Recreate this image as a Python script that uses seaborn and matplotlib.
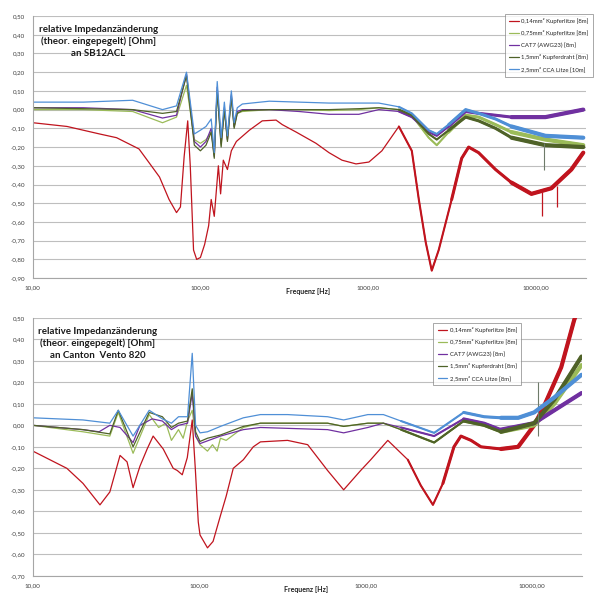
"""
Relative Impedanzänderung verschiedener Lautsprecherkabel (zwei Lautsprecher)
"""
import matplotlib
matplotlib.use('Agg')
import matplotlib.pyplot as plt
import matplotlib.ticker as mticker
import seaborn as sns

# ── Data ─────────────────────────────────────────────────────────
LABELS_TOP = ['0,14mm² Kupferlitze [8m]', '0,75mm² Kupferlitze [8m]', 'CAT7 (AWG23) [8m]',
              '1,5mm² Kupferdraht [8m]', '2,5mm² CCA Litze [10m]']
LABELS_BOT = ['0,14mm² Kupferlitze [8m]', '0,75mm² Kupferlitze [8m]', 'CAT7 (AWG23) [8m]',
              '1,5mm² Kupferdraht [8m]', '2,5mm² CCA Litze [8m]']
COLORS = ['#C0141E', '#9BBB59', '#7030A0', '#4F6228', '#4F8FD6']

# top chart: SB12ACL
top_red_f = [10, 16, 25, 31.6, 43, 50, 57, 65, 72, 76, 80, 84, 87, 91, 95, 100, 106, 112, 116, 121,
             128, 132, 137, 145, 153, 164, 196, 234, 283, 308, 373, 490, 586, 700, 849, 1014, 1212,
             1530, 1828, 2013, 2215, 2405, 2646, 3162, 3628, 3993, 4580, 5780, 7200, 9466,
             12450, 16380, 19300]
top_red_v = [-0.07, -0.09, -0.13, -0.15, -0.21, -0.29, -0.36, -0.48, -0.55, -0.52, -0.25, -0.06, -0.30,
             -0.75, -0.80, -0.79, -0.72, -0.62, -0.48, -0.57, -0.30, -0.45, -0.27, -0.32, -0.22, -0.17,
             -0.11, -0.06, -0.056, -0.08, -0.12, -0.18, -0.23, -0.27, -0.29, -0.28, -0.22, -0.09, -0.22,
             -0.48, -0.71, -0.86, -0.75, -0.48, -0.26, -0.20, -0.23, -0.32, -0.39, -0.45,
             -0.42, -0.32, -0.23]
# single-sample outliers (thin vertical spikes)
top_red_spike_f = [11000, 13500]
top_red_spike_lo = [-0.57, -0.52]
top_red_spike_hi = [-0.44, -0.41]
top_olive_spike_f = [11200]
top_olive_spike_lo = [-0.32]
top_olive_spike_hi = [-0.18]

top_grp_f = [10, 20, 39.4, 59.4, 72, 82.6, 92, 100, 108, 116, 121, 126, 133, 139, 145, 153, 159, 166,
             178, 258, 388, 586, 883, 1162, 1530, 1828, 2307, 2576, 3034, 3830, 4580, 5780, 7200,
             11480, 19300]
top_green_v = [0.0, 0.0, -0.01, -0.07, -0.04, 0.13, -0.16, -0.18, -0.16, -0.12, -0.24, 0.10, -0.19,
               0.0, -0.16, 0.06, -0.09, -0.02, -0.01, 0.0, 0.0, -0.005, 0.0, 0.01, 0.0, -0.03, -0.15,
               -0.19, -0.12, -0.03, -0.04, -0.08, -0.12, -0.16, -0.19]
top_purple_v = [0.01, 0.01, 0.0, -0.045, -0.03, 0.19, -0.17, -0.20, -0.17, -0.10, -0.25, 0.12, -0.18,
                0.01, -0.16, 0.08, -0.09, -0.01, 0.0, 0.0, -0.01, -0.025, -0.025, 0.0, -0.01, -0.04,
                -0.12, -0.14, -0.09, -0.01, -0.02, -0.03, -0.04, -0.04, 0.0]
top_olive_v = [0.01, 0.005, 0.0, -0.02, -0.01, 0.18, -0.19, -0.22, -0.19, -0.12, -0.26, 0.10, -0.20,
               0.0, -0.17, 0.07, -0.10, -0.02, -0.005, 0.0, 0.0, 0.0, 0.005, 0.01, 0.0, -0.03, -0.13,
               -0.16, -0.11, -0.04, -0.06, -0.10, -0.15, -0.19, -0.20]
top_blue_v = [0.04, 0.04, 0.05, 0.0, 0.02, 0.20, -0.13, -0.11, -0.09, -0.05, -0.23, 0.15, -0.15,
              0.04, -0.14, 0.10, -0.07, 0.01, 0.03, 0.045, 0.04, 0.035, 0.035, 0.035, 0.015, -0.02,
              -0.11, -0.13, -0.08, 0.0, -0.02, -0.05, -0.09, -0.14, -0.15]

# bottom chart: Canton Vento 820
bot_red_f = [10, 16, 20, 25.3, 29, 33.4, 36.8, 40, 44, 48.6, 52.8, 60.7, 69.7, 73.7, 79, 84.7, 90.7,
             94.6, 98.6, 101, 112, 121, 134, 145, 160, 184, 211, 233, 339, 448, 590, 737, 933, 1072,
             1358, 1791, 2144, 2535, 2911, 3390, 3734, 4295, 4930, 6500, 8240, 10280, 11800, 14960,
             17900, 20280]
bot_red_v = [-0.12, -0.20, -0.27, -0.37, -0.31, -0.14, -0.17, -0.29, -0.19, -0.11, -0.05, -0.11, -0.20,
             -0.21, -0.23, -0.15, 0.025, -0.20, -0.45, -0.51, -0.57, -0.54, -0.42, -0.33, -0.20, -0.16,
             -0.10, -0.077, -0.07, -0.09, -0.21, -0.30, -0.21, -0.16, -0.07, -0.16, -0.28, -0.37, -0.27,
             -0.10, -0.05, -0.07, -0.10, -0.11, -0.10, 0.0, 0.09, 0.27, 0.49, 0.60]

bot_green_f = [10, 20, 29, 32.6, 40, 50, 57, 63, 68, 75, 80, 85, 90.7, 95, 101, 112, 120, 128, 134,
               145, 184, 233, 590, 737, 1030, 1277, 1630, 2578, 3880, 5150, 6500, 10280, 13600, 19800]
bot_green_v = [0.0, -0.03, -0.05, 0.06, -0.13, 0.05, -0.01, 0.01, -0.07, -0.02, -0.06, 0.02, 0.07,
               -0.05, -0.09, -0.12, -0.09, -0.12, -0.06, -0.07, -0.01, 0.01, 0.01, -0.005, 0.01, 0.01,
               -0.02, -0.08, 0.02, 0.0, -0.03, 0.0, 0.10, 0.28]

bot_purple_f = [10, 20, 25, 29, 33.4, 40, 44, 52, 60, 68, 75, 85, 90.7, 95, 101, 134, 184, 233, 590,
                737, 1030, 1277, 1630, 2578, 3880, 5150, 6500, 10280, 13600, 19800]
bot_purple_v = [0.0, -0.02, -0.03, 0.0, -0.01, -0.08, 0.0, 0.03, 0.02, -0.02, 0.0, 0.01, 0.15, -0.05,
                -0.085, -0.05, -0.02, -0.01, -0.02, -0.035, -0.01, 0.01, -0.01, -0.05, 0.03, 0.01,
                -0.02, 0.01, 0.07, 0.15]

bot_grp_f = [10, 20, 29, 32.6, 40, 50, 60, 68, 75, 85, 90.7, 95, 101, 112, 134, 184, 233, 339, 590,
             737, 1030, 1277, 1630, 2578, 3880, 5150, 6500, 8250, 10280, 13600, 19800]
bot_olive_v = [0.0, -0.02, -0.04, 0.07, -0.10, 0.06, 0.04, -0.01, 0.01, 0.02, 0.17, -0.03, -0.075,
               -0.06, -0.045, -0.005, 0.01, 0.01, 0.01, -0.005, 0.01, 0.01, -0.02, -0.08, 0.02, 0.0,
               -0.03, -0.01, 0.01, 0.12, 0.32]
bot_blue_v = [0.035, 0.025, 0.01, 0.07, -0.05, 0.07, 0.03, 0.01, 0.04, 0.04, 0.335, 0.0, -0.035,
              -0.03, -0.005, 0.035, 0.05, 0.05, 0.04, 0.025, 0.05, 0.05, 0.02, -0.035, 0.06, 0.04,
              0.035, 0.035, 0.06, 0.13, 0.235]
bot_olive_spike_f = [10800]
bot_olive_spike_lo = [-0.05]
bot_olive_spike_hi = [0.20]

# ── Style ────────────────────────────────────────────────────────
sns.set_theme(style='white')
plt.rcParams['font.family'] = ['Lato', 'DejaVu Sans']
# measurement noise gets denser at high frequencies -> thicker trace
NOISE_TIERS = [(1400, 1.5), (2800, 2.2), (6000, 3.0)]


def comma_fmt(v, pos):
    return f'{v:.2f}'.replace('.', ',')


def draw_series(ax, f, v, color, label):
    sns.lineplot(x=f, y=v, ax=ax, color=color, lw=0.9, label=label, sort=False,
                 solid_capstyle='round', solid_joinstyle='round')
    for f0, lw in NOISE_TIERS:
        hf = [a for a in f if a >= f0]
        hv = [b for a, b in zip(f, v) if a >= f0]
        sns.lineplot(x=hf, y=hv, ax=ax, color=color, lw=lw, sort=False, legend=False,
                     solid_capstyle='round', solid_joinstyle='round')


def style_axis(ax, ymin, ymax, title, labels, leg_anchor):
    ax.set_xscale('log')
    ax.set_xlim(10, 20000)
    ax.set_ylim(ymin, ymax)
    ax.set_yticks([round(ymin + 0.1 * i, 2) for i in range(int(round((ymax - ymin) / 0.1)) + 1)])
    ax.yaxis.set_major_formatter(mticker.FuncFormatter(comma_fmt))
    ax.xaxis.set_major_locator(mticker.FixedLocator([10, 100, 1000, 10000]))
    ax.xaxis.set_major_formatter(mticker.FuncFormatter(comma_fmt))
    ax.xaxis.set_minor_locator(mticker.LogLocator(base=10, subs=range(2, 10)))
    ax.xaxis.set_minor_formatter(mticker.NullFormatter())
    ax.grid(axis='y', color='#BEBEBE', lw=0.8)
    ax.grid(axis='x', visible=False)
    for s in ['top', 'right']:
        ax.spines[s].set_visible(False)
    for s in ['left', 'bottom']:
        ax.spines[s].set_color('#A6A6A6')
        ax.spines[s].set_linewidth(0.8)
    ax.tick_params(axis='both', which='both', labelsize=4.5, colors='#A6A6A6',
                   labelcolor='#404040', direction='inout')
    ax.tick_params(axis='x', which='major', length=4, width=0.6, pad=3)
    ax.tick_params(axis='x', which='minor', length=3, width=0.6)
    ax.tick_params(axis='y', which='major', length=3, width=0.6, pad=4)
    ax.set_xlabel('Frequenz [Hz]', fontsize=5, fontweight='bold', color='#202020')
    ax.xaxis.set_label_coords(0.497, -0.038)
    ax.set_ylabel('')
    ax.text(0.118, 0.965, title, transform=ax.transAxes, ha='center', va='top',
            fontsize=7, fontweight='bold', color='#1A1A1A', linespacing=1.35)
    handles, _ = ax.get_legend_handles_labels()
    leg = ax.legend(handles[:5], labels, loc='upper right', bbox_to_anchor=leg_anchor,
                    borderaxespad=0, fontsize=4.3, frameon=True, fancybox=False,
                    edgecolor='#808080', handlelength=1.6, handletextpad=0.4,
                    labelspacing=1.05, borderpad=0.7)
    leg.get_frame().set_linewidth(0.6)


fig = plt.figure(figsize=(6.09, 5.93), dpi=100)
ax1 = fig.add_axes([0.054, 0.531, 0.908, 0.442])
ax2 = fig.add_axes([0.054, 0.029, 0.902, 0.435])

# ── Top: SB12ACL ─────────────────────────────────────────────────
draw_series(ax1, top_red_f, top_red_v, COLORS[0], LABELS_TOP[0])
ax1.vlines(top_red_spike_f, top_red_spike_lo, top_red_spike_hi, color=COLORS[0], lw=0.9)
draw_series(ax1, top_grp_f, top_green_v, COLORS[1], LABELS_TOP[1])
draw_series(ax1, top_grp_f, top_purple_v, COLORS[2], LABELS_TOP[2])
draw_series(ax1, top_grp_f, top_olive_v, COLORS[3], LABELS_TOP[3])
ax1.vlines(top_olive_spike_f, top_olive_spike_lo, top_olive_spike_hi, color='#6E7B6A', lw=0.8)
draw_series(ax1, top_grp_f, top_blue_v, COLORS[4], LABELS_TOP[4])
style_axis(ax1, -0.9, 0.5, 'relative Impedanzänderung\n(theor. eingepegelt) [Ohm]\nan SB12ACL',
           LABELS_TOP, (1.013, 1.008))

# ── Bottom: Canton Vento 820 ─────────────────────────────────────
draw_series(ax2, bot_red_f, bot_red_v, COLORS[0], LABELS_BOT[0])
draw_series(ax2, bot_green_f, bot_green_v, COLORS[1], LABELS_BOT[1])
draw_series(ax2, bot_purple_f, bot_purple_v, COLORS[2], LABELS_BOT[2])
draw_series(ax2, bot_grp_f, bot_olive_v, COLORS[3], LABELS_BOT[3])
ax2.vlines(bot_olive_spike_f, bot_olive_spike_lo, bot_olive_spike_hi, color='#6E7B6A', lw=0.8)
draw_series(ax2, bot_grp_f, bot_blue_v, COLORS[4], LABELS_BOT[4])
style_axis(ax2, -0.7, 0.5, 'relative Impedanzänderung\n(theor. eingepegelt) [Ohm]\nan Canton  Vento 820',
           LABELS_BOT, (0.889, 0.981))

fig.savefig('out.png', dpi=100, facecolor='white')
plt.close(fig)
